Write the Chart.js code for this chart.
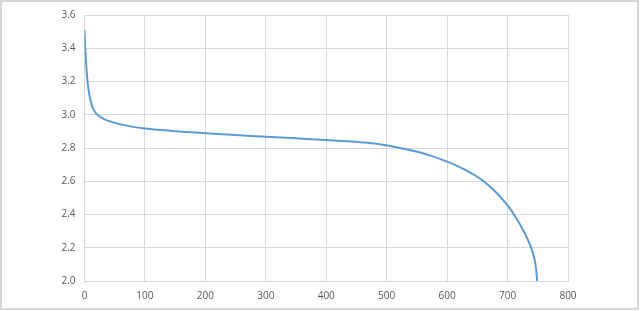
<!DOCTYPE html>
<html>
<head>
<meta charset="utf-8">
<script src="https://cdn.jsdelivr.net/npm/chart.js@4/dist/chart.umd.min.js"></script>
<style>
html,body{margin:0;padding:0;background:#fff;}
#wrap{position:relative;width:640px;height:311px;}
</style>
</head>
<body>
<div id="wrap"><canvas id="c" width="640" height="311"></canvas></div>
<script>
const capacity = [0,1,2,3,5,8,12,16,20,30,45,60,80,100,150,200,250,300,350,400,450,480,510,540,570,600,625,650,675,700,715,728,738,744,747,749];
const voltage  = [3.51,3.42,3.35,3.29,3.2,3.12,3.06,3.025,3.005,2.978,2.957,2.942,2.927,2.917,2.901,2.889,2.878,2.868,2.858,2.848,2.837,2.827,2.809,2.786,2.757,2.718,2.678,2.627,2.555,2.455,2.375,2.29,2.21,2.14,2.08,2.0];
const xTicks = [0,100,200,300,400,500,600,700,800];
const yTicks = [2.0,2.2,2.4,2.6,2.8,3.0,3.2,3.4,3.6];

const points = capacity.map((x,i)=>({x:x,y:voltage[i]}));

const framePlugin = {
  id:'frame',
  afterDraw(chart){
    const ctx = chart.ctx;
    ctx.save();
    ctx.strokeStyle = '#d6d6d6';
    ctx.lineWidth = 2;
    ctx.strokeRect(1,1,637,308);
    ctx.restore();
  }
};

new Chart(document.getElementById('c'), {
  type:'line',
  data:{datasets:[{
    data:points,
    borderColor:'#5B9BD5',
    borderWidth:2,
    pointRadius:0,
    fill:false,
    cubicInterpolationMode:'monotone'
  }]},
  options:{
    responsive:false,
    animation:false,
    layout:{padding:{left:0,right:72,top:14,bottom:0}},
    plugins:{legend:{display:false},tooltip:{enabled:false}},
    scales:{
      x:{
        type:'linear',min:xTicks[0],max:xTicks[xTicks.length-1],
        afterBuildTicks(s){ s.ticks = xTicks.map(v=>({value:v})); },
        afterFit(s){ s.height = 30; },
        grid:{color:'#d9d9d9',lineWidth:1,drawTicks:false},
        border:{color:'#d9d9d9'},
        ticks:{color:'#595959',font:{family:'"Open Sans", "Liberation Sans", sans-serif',size:10},padding:9,maxRotation:0,
          callback:v=>String(v)}
      },
      y:{
        type:'linear',min:yTicks[0],max:yTicks[yTicks.length-1],
        afterBuildTicks(s){ s.ticks = yTicks.map(v=>({value:v})); },
        afterFit(s){ s.width = 84.5; },
        grid:{color:'#d9d9d9',lineWidth:1,drawTicks:false},
        border:{color:'#d9d9d9'},
        ticks:{color:'#595959',font:{family:'"Open Sans", "Liberation Sans", sans-serif',size:10},padding:9,
          callback:v=>Number(v).toFixed(1)}
      }
    }
  },
  plugins:[framePlugin]
});
</script>
</body>
</html>
